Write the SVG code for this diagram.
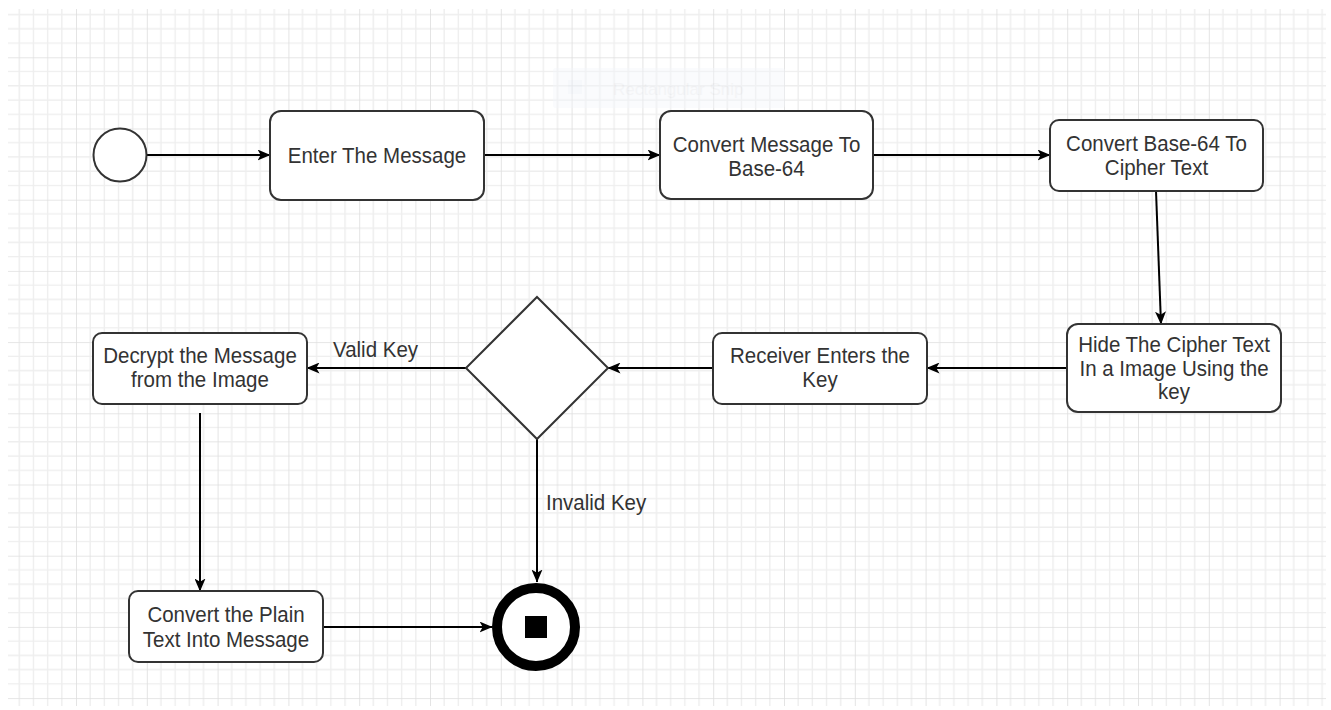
<svg xmlns="http://www.w3.org/2000/svg" width="1331" height="710" viewBox="0 0 1331 710">
  <defs>
    <pattern id="grid" patternUnits="userSpaceOnUse" x="5.2" y="-13.9" width="70.8" height="71.2">
      <path d="M14.16 0V71.2M28.32 0V71.2M42.48 0V71.2M56.64 0V71.2M0 14.24H70.8M0 28.48H70.8M0 42.72H70.8M0 56.96H70.8" stroke="#eeeeee" stroke-width="1.4" fill="none"/>
      <path d="M0 0V71.2M0 0H70.8" stroke="#dedede" stroke-width="1.6" fill="none"/>
    </pattern>
    <marker id="arrow" viewBox="0 0 13 11" refX="12.5" refY="5.5" markerWidth="13" markerHeight="11" markerUnits="userSpaceOnUse" orient="auto">
      <path d="M0 0L13 5.5L0 11L3.2 5.5Z" fill="#000"/>
    </marker>
  </defs>
  <style>
    .box { fill: #fff; stroke: #333; stroke-width: 2; }
    .lbl { font-family: "Liberation Sans", Arial, sans-serif; font-size: 20.5px; fill: #333; text-anchor: middle; }
    .edge { fill: none; stroke: #000; stroke-width: 2; marker-end: url(#arrow); }
    .tag { font-family: "Liberation Sans", Arial, sans-serif; font-size: 20.5px; fill: #333; }
  </style>

  <!-- canvas -->
  <rect width="1331" height="710" fill="#fff"/>
  <rect x="8" y="9" width="1318" height="697" fill="url(#grid)"/>

  <!-- faint tool overlay near the top -->
  <g id="snip-overlay" opacity="0.4">
    <rect x="553" y="68" width="232" height="40" rx="3" fill="#f3f6fb"/>
    <rect x="568" y="80" width="14" height="14" fill="#e9eef7"/>
    <text x="613" y="95" font-family="'Liberation Sans', Arial, sans-serif" font-size="17" fill="#e3e5ea">Rectangular Snip</text>
  </g>

  <!-- connectors -->
  <g id="connectors">
    <path class="edge" d="M147 155H270"/>
    <path class="edge" d="M484 155H660"/>
    <path class="edge" d="M873 155H1050"/>
    <path class="edge" d="M1156 191L1161 324"/>
    <path class="edge" d="M1067 368H927"/>
    <path class="edge" d="M713 368H608"/>
    <path class="edge" d="M466 368H307"/>
    <path class="edge" d="M537 438V582"/>
    <path class="edge" d="M200 413V591"/>
    <path class="edge" d="M323 627H492"/>
    <text class="tag" transform="translate(333 357) scale(1 1.08)">Valid Key</text>
    <text class="tag" transform="translate(546 510) scale(1 1.08)">Invalid Key</text>
  </g>

  <!-- nodes -->
  <g id="start">
    <circle cx="120" cy="155" r="26.5" fill="#fff" stroke="#333" stroke-width="2"/>
  </g>

  <g id="enter-message">
    <rect class="box" x="270" y="111" width="214" height="89" rx="11"/>
    <text class="lbl" transform="translate(377 163) scale(1 1.08)">Enter The Message</text>
  </g>

  <g id="convert-base64">
    <rect class="box" x="660" y="111" width="213" height="88" rx="11"/>
    <text class="lbl" transform="translate(766.5 151.5) scale(1 1.08)">Convert Message To</text>
    <text class="lbl" transform="translate(766.5 175.5) scale(1 1.08)">Base-64</text>
  </g>

  <g id="convert-cipher">
    <rect class="box" x="1050" y="120" width="213" height="71" rx="9"/>
    <text class="lbl" transform="translate(1156.5 151) scale(1 1.08)">Convert Base-64 To</text>
    <text class="lbl" transform="translate(1156.5 175) scale(1 1.08)">Cipher Text</text>
  </g>

  <g id="hide-cipher">
    <rect class="box" x="1067" y="324" width="214" height="88" rx="11"/>
    <text class="lbl" transform="translate(1174 351.5) scale(1 1.08)">Hide The Cipher Text</text>
    <text class="lbl" transform="translate(1174 376) scale(1 1.08)">In a Image Using the</text>
    <text class="lbl" transform="translate(1174 399) scale(1 1.08)">key</text>
  </g>

  <g id="receiver-key">
    <rect class="box" x="713" y="333" width="214" height="71" rx="9"/>
    <text class="lbl" transform="translate(820 363) scale(1 1.08)">Receiver Enters the</text>
    <text class="lbl" transform="translate(820 387) scale(1 1.08)">Key</text>
  </g>

  <g id="key-check">
    <polygon points="537,297 608,368 537,439 466,368" fill="#fff" stroke="#333" stroke-width="2"/>
  </g>

  <g id="decrypt">
    <rect class="box" x="93" y="333" width="214" height="71" rx="9"/>
    <text class="lbl" transform="translate(200 363) scale(1 1.08)">Decrypt the Message</text>
    <text class="lbl" transform="translate(200 387) scale(1 1.08)">from the Image</text>
  </g>

  <g id="plain-to-message">
    <rect class="box" x="129" y="591" width="194" height="71" rx="9"/>
    <text class="lbl" transform="translate(226 622) scale(1 1.08)">Convert the Plain</text>
    <text class="lbl" transform="translate(226 646.5) scale(1 1.08)">Text Into Message</text>
  </g>

  <g id="end">
    <circle cx="536" cy="627" r="39" fill="#fff" stroke="#000" stroke-width="10"/>
    <rect x="525" y="616" width="22" height="22" fill="#000"/>
  </g>
</svg>
